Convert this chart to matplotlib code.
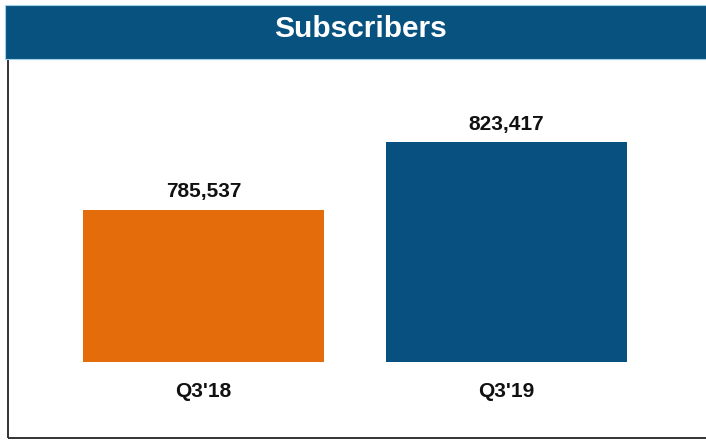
import matplotlib.pyplot as plt
from matplotlib.patches import Rectangle

# Subscriber counts by quarter
quarters = ["Q3'18", "Q3'19"]
subscribers = [785537, 823417]
bar_colors = ['#E46C0A', '#07507F']

header_color = '#08527F'

plt.rcParams['font.family'] = ['Liberation Sans', 'DejaVu Sans']

fig = plt.figure(figsize=(7.06, 4.41), dpi=100)
W, H = 706, 441

def fx(px):
    return px / W

def fy(py):
    return 1 - py / H

# frame around the chart body
fig.patches.append(Rectangle((fx(8), fy(438)), fx(720) - fx(8), fy(59) - fy(438),
                             transform=fig.transFigure, facecolor='none',
                             edgecolor='#333333', lw=1.4, zorder=-1))
# title band
fig.patches.append(Rectangle((fx(5), fy(59)), 1.1, fy(5) - fy(59),
                             transform=fig.transFigure, facecolor=header_color,
                             edgecolor='#9fd3e6', lw=0.8, zorder=1))
fig.text(fx(360), fy(29), 'Subscribers', color='white', fontsize=21.5,
         fontweight='bold', ha='center', va='center')

# axes spans from the band down to the bar baseline
ax = fig.add_axes([0, fy(362), 1, fy(59) - fy(362)])
ax.patch.set_alpha(0)
x = range(len(quarters))
bars = ax.bar(x, subscribers, width=241 / 303, color=bar_colors, zorder=2)
ax.set_xlim(-203.5 / 303, (706 - 203.5) / 303)
ax.set_ylim(700000, 870000)

for i, v in enumerate(subscribers):
    ax.annotate(f'{v:,}', (i, v), xytext=(0, 9), textcoords='offset points',
                ha='center', va='baseline', fontsize=15, fontweight='bold',
                color='#111111')
    ax.annotate(quarters[i], (i, 700000), xytext=(0, -25), textcoords='offset points',
                ha='center', va='baseline', fontsize=15, fontweight='bold',
                color='#111111', annotation_clip=False)

ax.set_xticks([])
ax.set_yticks([])
for s in ax.spines.values():
    s.set_visible(False)

fig.savefig('out.png', dpi=100)
